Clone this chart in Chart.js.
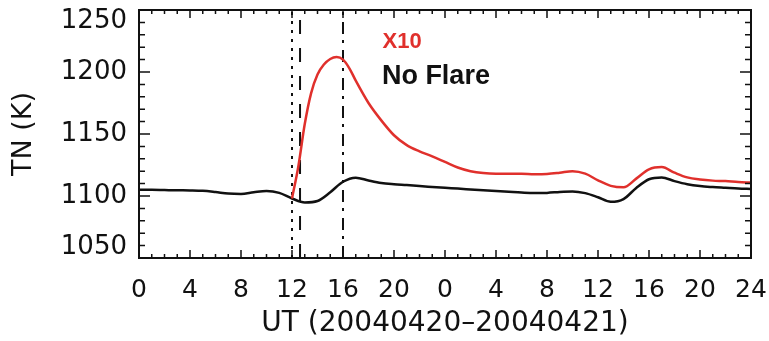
<!DOCTYPE html>
<html>
<head>
<meta charset="utf-8">
<script src="https://cdn.jsdelivr.net/npm/chart.js@4.4.1/dist/chart.umd.min.js"></script>
<style>
  html, body { margin: 0; padding: 0; background: #fff; }
  #tnChart { display: block; }
</style>
</head>
<body>
<canvas id="tnChart" width="769" height="341"></canvas>
<script>
// hours since 2004-04-20 00 UT
const hours = [0, 1, 2, 3, 4, 5, 6, 7, 8, 9, 10, 11, 12, 13, 14, 15, 16, 17, 18, 19, 20, 21, 22, 23, 24,
  25, 26, 27, 28, 29, 30, 31, 32, 33, 34, 35, 36, 37, 38, 39, 40, 41, 42, 43, 44, 45, 46, 47, 48];
const noFlareTN = [1105, 1105, 1104.8, 1104.6, 1104.5, 1104.2, 1103.2, 1102, 1101.7, 1103, 1104, 1102.5,
  1098, 1094.8, 1096, 1103, 1111.5, 1114.8, 1112.5, 1110.5, 1109.5, 1108.8, 1108, 1107.3, 1106.6,
  1106, 1105.3, 1104.6, 1104, 1103.4, 1102.8, 1102.4, 1102.5, 1103.3, 1103.7, 1102.3, 1099, 1095.3,
  1097.5, 1106.5, 1113.5, 1115, 1112, 1109.5, 1108, 1107.2, 1106.6, 1106, 1105.7];

const x10Hours = [12, 12.5, 13, 13.5, 14, 14.5, 15, 15.5, 16, 16.5, 17, 18, 19, 20, 21, 22, 23, 24, 25, 26,
  27, 28, 29, 30, 31, 32, 33, 34, 35, 36, 37, 38, 39, 40, 41, 42, 43, 44, 45, 46, 47, 48];
const x10TN = [1098, 1124, 1158, 1183, 1198, 1206, 1210.5, 1212, 1210, 1203, 1193, 1175, 1161, 1149, 1141,
  1136, 1132, 1127.5, 1123, 1120, 1118.5, 1118, 1118, 1118, 1117.6, 1117.8, 1118.8, 1120, 1118, 1112.6,
  1108.2, 1107, 1114, 1121.5, 1123.3, 1118.8, 1115, 1113.3, 1112.4, 1112, 1111.2, 1110.8];

// flare onset, peak and TN response markers (UT hours)
const eventHours = [12, 12.63, 16];
const xTickLabels = ['0', '4', '8', '12', '16', '20', '0', '4', '8', '12', '16', '20', '24'];
const yTickValues = [1050, 1100, 1150, 1200, 1250];
const yRange = [1050, 1250];

const pts = (xs, ys) => xs.map((x, i) => ({ x: x, y: ys[i] }));
const vline = h => [{ x: h, y: yRange[0] }, { x: h, y: yRange[1] }];

const lineStyle = { pointRadius: 0, borderWidth: 2.5, fill: false, cubicInterpolationMode: 'monotone' };
const markerStyles = [[3, 6], [14, 14], [12, 7, 3, 6]];

// frame with inward ticks on all four sides, y labels and series labels
const frameAxes = {
  id: 'frameAxes',
  afterDraw(chart) {
    const { ctx, chartArea: a, scales: { x, y } } = chart;
    ctx.save();
    ctx.strokeStyle = '#111';
    ctx.lineWidth = 2;
    ctx.strokeRect(a.left, a.top, a.right - a.left, a.bottom - a.top);
    ctx.lineWidth = 1.5;
    ctx.beginPath();
    for (let h = x.min; h <= x.max; h += 1) {
      const px = x.getPixelForValue(h);
      const len = h % 4 === 0 ? 8 : 4;
      ctx.moveTo(px, a.bottom); ctx.lineTo(px, a.bottom - len);
      ctx.moveTo(px, a.top); ctx.lineTo(px, a.top + len);
    }
    for (let v = y.min; v <= y.max; v += 10) {
      const py = y.getPixelForValue(v);
      const len = v % 50 === 0 ? 11 : 6;
      ctx.moveTo(a.left, py); ctx.lineTo(a.left + len, py);
      ctx.moveTo(a.right, py); ctx.lineTo(a.right - len, py);
    }
    ctx.stroke();

    ctx.fillStyle = '#111';
    ctx.font = '26px "DejaVu Sans"';
    ctx.textAlign = 'right';
    ctx.textBaseline = 'middle';
    yTickValues.forEach(v => {
      let py = y.getPixelForValue(v);
      py = Math.min(Math.max(py, a.top + 11), a.bottom - 11);
      ctx.fillText(String(v), a.left - 12, py);
    });

    ctx.textAlign = 'left';
    ctx.font = 'bold 22px "Liberation Sans"';
    ctx.fillStyle = '#e0302c';
    ctx.fillText('X10', x.getPixelForValue(19.1), y.getPixelForValue(1224));
    ctx.font = 'bold 27px "Liberation Sans"';
    ctx.fillStyle = '#111';
    ctx.fillText('No Flare', x.getPixelForValue(19.05), y.getPixelForValue(1196));
    ctx.restore();
  }
};

const ctx = document.getElementById('tnChart').getContext('2d');
const tnChart = new Chart(ctx, {
  type: 'line',
  data: {
    datasets: [
      Object.assign({ label: 'X10', data: pts(x10Hours, x10TN), borderColor: '#e0302c' }, lineStyle),
      Object.assign({ label: 'No Flare', data: pts(hours, noFlareTN), borderColor: '#111' }, lineStyle)
    ].concat(eventHours.map((h, i) => ({
      label: 'event' + i,
      data: vline(h),
      borderColor: '#111',
      borderWidth: 2,
      borderDash: markerStyles[i],
      pointRadius: 0,
      fill: false
    })))
  },
  options: {
    responsive: false,
    animation: false,
    layout: { padding: { top: 10, right: 18, left: 0, bottom: 0 } },
    plugins: { legend: { display: false }, tooltip: { enabled: false } },
    scales: {
      x: {
        type: 'linear',
        min: 0,
        max: 48,
        grid: { display: false, drawTicks: false },
        border: { display: false },
        ticks: {
          stepSize: 4,
          maxRotation: 0,
          autoSkip: false,
          padding: 17,
          color: '#111',
          font: { family: 'DejaVu Sans', size: 25 },
          callback: (v) => xTickLabels[v / 4]
        },
        title: {
          display: true,
          text: 'UT (20040420\u201320040421)',
          color: '#111',
          font: { family: 'DejaVu Sans', size: 28 },
          padding: { top: 0, bottom: 0 }
        },
        afterFit: (scale) => {
          scale.height = 83;
          scale.paddingLeft = 0;
          scale.paddingRight = 0;
        }
      },
      y: {
        min: yRange[0],
        max: yRange[1],
        grid: { display: false, drawTicks: false },
        border: { display: false },
        ticks: { display: false },
        title: {
          display: true,
          text: 'TN (K)',
          color: '#111',
          font: { family: 'DejaVu Sans', size: 27 },
          padding: { top: 8, bottom: 0 }
        },
        afterFit: (scale) => { scale.width = 139; }
      }
    }
  },
  plugins: [frameAxes]
});
</script>
</body>
</html>
